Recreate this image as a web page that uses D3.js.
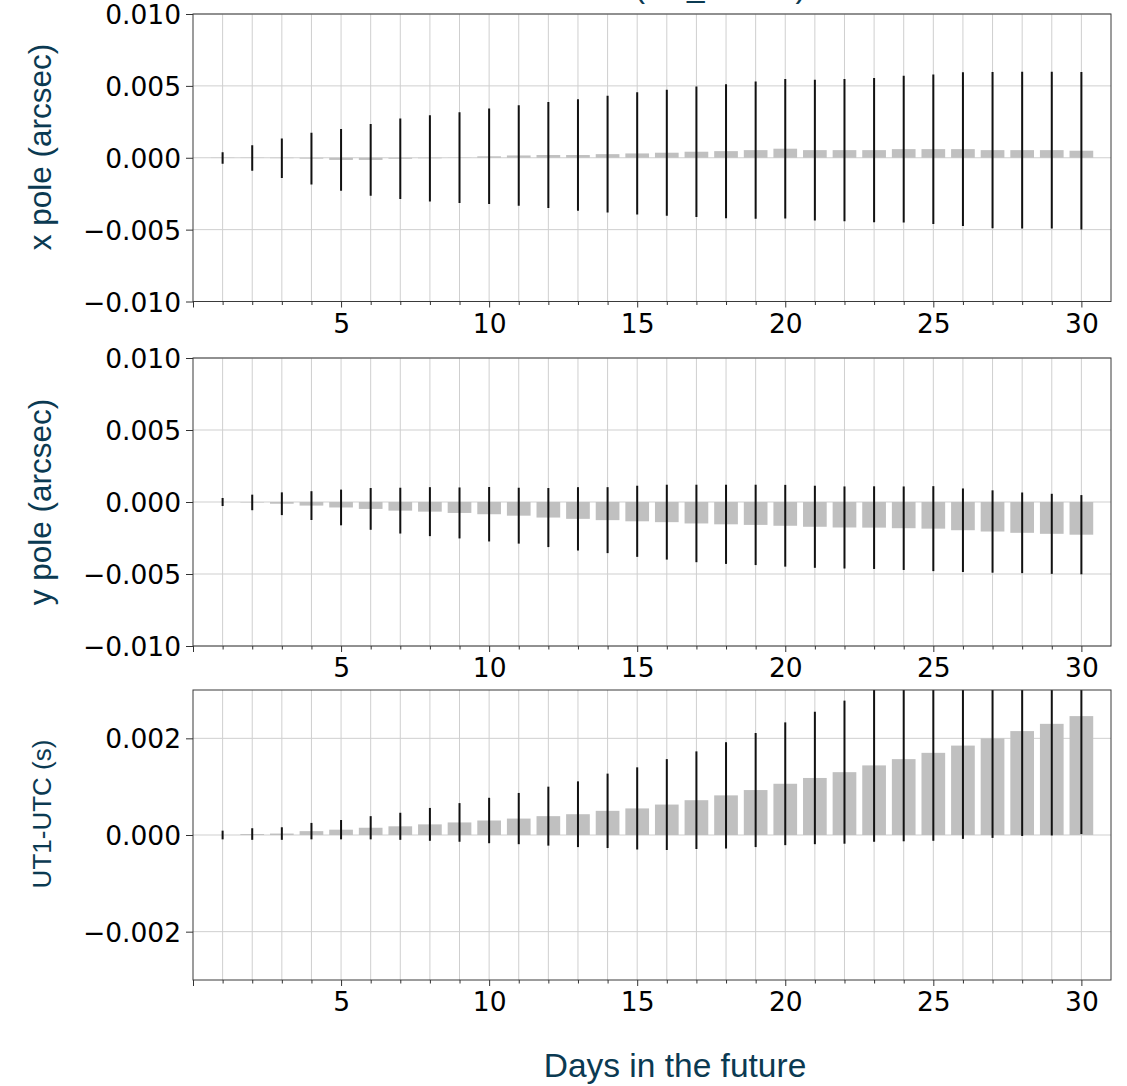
<!DOCTYPE html>
<html lang="en">
<head>
<meta charset="UTF-8">
<title>EOP prediction errors</title>
<style>
  body { margin: 0; background: #fff; }
  svg { display: block; }
</style>
</head>
<body>
<script src="https://cdn.jsdelivr.net/npm/d3@7/dist/d3.min.js"></script>
<div id="chart"></div>
<script>
// days in the future
const days = d3.range(1, 31);

// x pole: bar value and error (arcsec)
const xPoleValues = [-0.00002, -0.00002, -0.00003, -0.00006, -0.00015, -0.00015, -0.00007, -0.00004, 0.00001, 0.0001,
                     0.00016, 0.00019, 0.00019, 0.00025, 0.0003, 0.00035, 0.00042, 0.00046, 0.00053, 0.00063,
                     0.00053, 0.00053, 0.00053, 0.0006, 0.0006, 0.0006, 0.00053, 0.00053, 0.00053, 0.00049];
const xPoleErrors = [0.0004, 0.00089, 0.00137, 0.0018, 0.00215, 0.0025, 0.0028, 0.003, 0.00316, 0.00332,
                     0.0035, 0.00369, 0.00388, 0.00406, 0.00425, 0.00438, 0.00454, 0.00466, 0.00478, 0.00485,
                     0.0049, 0.00495, 0.00502, 0.0051, 0.0052, 0.00534, 0.00544, 0.00546, 0.00546, 0.00548];

// y pole (arcsec)
const yPoleValues = [0, -0.00003, -0.00012, -0.00025, -0.00038, -0.00048, -0.0006, -0.00067, -0.00076, -0.00085,
                     -0.00095, -0.00108, -0.00117, -0.00126, -0.00134, -0.0014, -0.00149, -0.00155, -0.00159, -0.00165,
                     -0.00172, -0.00177, -0.00178, -0.00182, -0.00185, -0.00196, -0.00205, -0.00214, -0.00221, -0.00227];
const yPoleErrors = [0.00028, 0.00054, 0.00079, 0.001, 0.00124, 0.00145, 0.00159, 0.0017, 0.00177, 0.00189,
                     0.00194, 0.00205, 0.0022, 0.00229, 0.00247, 0.0026, 0.00269, 0.00275, 0.00279, 0.00284,
                     0.00285, 0.00285, 0.00287, 0.0029, 0.00295, 0.0029, 0.00286, 0.0028, 0.00278, 0.00275];

// UT1-UTC (s)
const ut1Values = [0, 0.00002, 0.00003, 0.00008, 0.00011, 0.00015, 0.00018, 0.00022, 0.00026, 0.0003,
                   0.00034, 0.00039, 0.00043, 0.0005, 0.00055, 0.00063, 0.00072, 0.00082, 0.00093, 0.00106,
                   0.00118, 0.0013, 0.00144, 0.00157, 0.0017, 0.00185, 0.002, 0.00215, 0.0023, 0.00246];
const ut1Errors = [0.00009, 0.00012, 0.00013, 0.00017, 0.0002, 0.00024, 0.00028, 0.00034, 0.0004, 0.00047,
                   0.00053, 0.00061, 0.00068, 0.00077, 0.00085, 0.00094, 0.00101, 0.0011, 0.00118, 0.00127,
                   0.00137, 0.00148, 0.00158, 0.0017, 0.00182, 0.00193, 0.00206, 0.00217, 0.00231, 0.00244];

// tick values
const poleTicks = [-0.01, -0.005, 0, 0.005, 0.01];
const ut1Ticks = [-0.002, 0, 0.002];
const dayTicks = d3.range(0, 31);

const largeur = 1127;
const hauteur = 1086;
const teal = "#0b3a52";
const tickFont = "'DejaVu Sans', sans-serif";
const labelFont = "'Liberation Sans', Arial, sans-serif";

const svg = d3.select("#chart")
    .append("svg")
    .attr("width", largeur)
    .attr("height", hauteur);

// title is cut off at the top edge in the original
svg.append("text")
    .attr("x", 806)
    .attr("y", -3)
    .attr("text-anchor", "end")
    .attr("font-family", labelFont)
    .style("font-size", "31.5px")
    .style("fill", teal)
    .text("Prediction Errors (UT_RMSE)");

const xScale = d3.scaleLinear().domain([0, 31]).range([193, 1111]);

const panels = [
    {id: "xp", top: 14, bottom: 301.5, domain: [-0.01, 0.01], ticks: poleTicks,
     values: xPoleValues, errors: xPoleErrors, label: "x pole (arcsec)", labelY: 147, labelSize: 31.5},
    {id: "yp", top: 358, bottom: 646, domain: [-0.01, 0.01], ticks: poleTicks,
     values: yPoleValues, errors: yPoleErrors, label: "y pole (arcsec)", labelY: 502, labelSize: 31.5},
    {id: "ut", top: 690, bottom: 980, domain: [-0.003, 0.003], ticks: ut1Ticks,
     values: ut1Values, errors: ut1Errors, label: "UT1-UTC (s)", labelY: 814, labelSize: 26}
];

const fmt = d3.format(".3f");

panels.forEach(p => {
    const yScale = d3.scaleLinear().domain(p.domain).range([p.bottom, p.top]);
    const g = svg.append("g").attr("class", "panel-" + p.id);
    const x0 = xScale.range()[0], x1 = xScale.range()[1];

    svg.append("clipPath").attr("id", "clip-" + p.id)
        .append("rect")
        .attr("x", x0).attr("y", p.top)
        .attr("width", x1 - x0).attr("height", p.bottom - p.top);

    // grille
    g.append("g").selectAll("line")
        .data(days)
        .join("line")
        .attr("x1", d => xScale(d)).attr("x2", d => xScale(d))
        .attr("y1", p.top).attr("y2", p.bottom)
        .attr("stroke", "#cfcfcf").attr("stroke-width", 1);
    g.append("g").selectAll("line")
        .data(p.ticks)
        .join("line")
        .attr("x1", x0).attr("x2", x1)
        .attr("y1", d => yScale(d)).attr("y2", d => yScale(d))
        .attr("stroke", "#cfcfcf").attr("stroke-width", 1);

    const data = days.map((d, i) => ({day: d, v: p.values[i], e: p.errors[i]}));

    // barres
    g.append("g").attr("clip-path", "url(#clip-" + p.id + ")")
        .selectAll("rect")
        .data(data)
        .join("rect")
        .attr("x", d => xScale(d.day - 0.4))
        .attr("width", xScale(0.8) - xScale(0))
        .attr("y", d => Math.min(yScale(d.v), yScale(0)))
        .attr("height", d => Math.abs(yScale(d.v) - yScale(0)))
        .attr("fill", "#c0c0c0");

    // barres d'erreur
    g.append("g").attr("clip-path", "url(#clip-" + p.id + ")")
        .selectAll("line")
        .data(data)
        .join("line")
        .attr("x1", d => xScale(d.day)).attr("x2", d => xScale(d.day))
        .attr("y1", d => yScale(d.v - d.e))
        .attr("y2", d => yScale(d.v + d.e))
        .attr("stroke", "#111").attr("stroke-width", 2);

    // cadre
    g.append("rect")
        .attr("x", x0).attr("y", p.top)
        .attr("width", x1 - x0).attr("height", p.bottom - p.top)
        .attr("fill", "none").attr("stroke", "#3a3a3a").attr("stroke-width", 1);

    // axe Y
    const yAxis = g.append("g")
        .attr("transform", "translate(" + x0 + ",0)")
        .call(d3.axisLeft(yScale).tickValues(p.ticks).tickSize(7).tickPadding(5).tickFormat(fmt));
    yAxis.select(".domain").remove();
    yAxis.selectAll("line").attr("stroke", "#333");
    yAxis.selectAll("text")
        .attr("dy", "0.36em")
        .attr("fill", "#000")
        .style("font-family", tickFont)
        .style("font-size", "26.5px");

    // axe X
    const xAxis = g.append("g")
        .attr("transform", "translate(0," + p.bottom + ")")
        .call(d3.axisBottom(xScale).tickValues(dayTicks).tickSize(6)
            .tickFormat(d => (d % 5 === 0 && d > 0) ? d : ""));
    xAxis.select(".domain").remove();
    xAxis.selectAll(".tick line")
        .attr("stroke", "#333")
        .attr("y2", d => d % 5 === 0 ? 6 : 3.5);
    xAxis.selectAll("text")
        .attr("y", 31).attr("dy", 0)
        .attr("fill", "#000")
        .style("font-family", tickFont)
        .style("font-size", "26.5px");

    // titre de l'axe Y
    svg.append("text")
        .attr("transform", "translate(51," + p.labelY + ") rotate(-90)")
        .attr("text-anchor", "middle")
        .attr("font-family", labelFont)
        .style("font-size", p.labelSize + "px")
        .style("fill", teal)
        .text(p.label);
});

svg.append("text")
    .attr("x", 675)
    .attr("y", 1077)
    .attr("text-anchor", "middle")
    .attr("font-family", labelFont)
    .style("font-size", "33.5px")
    .style("fill", teal)
    .text("Days in the future");
</script>
</body>
</html>
